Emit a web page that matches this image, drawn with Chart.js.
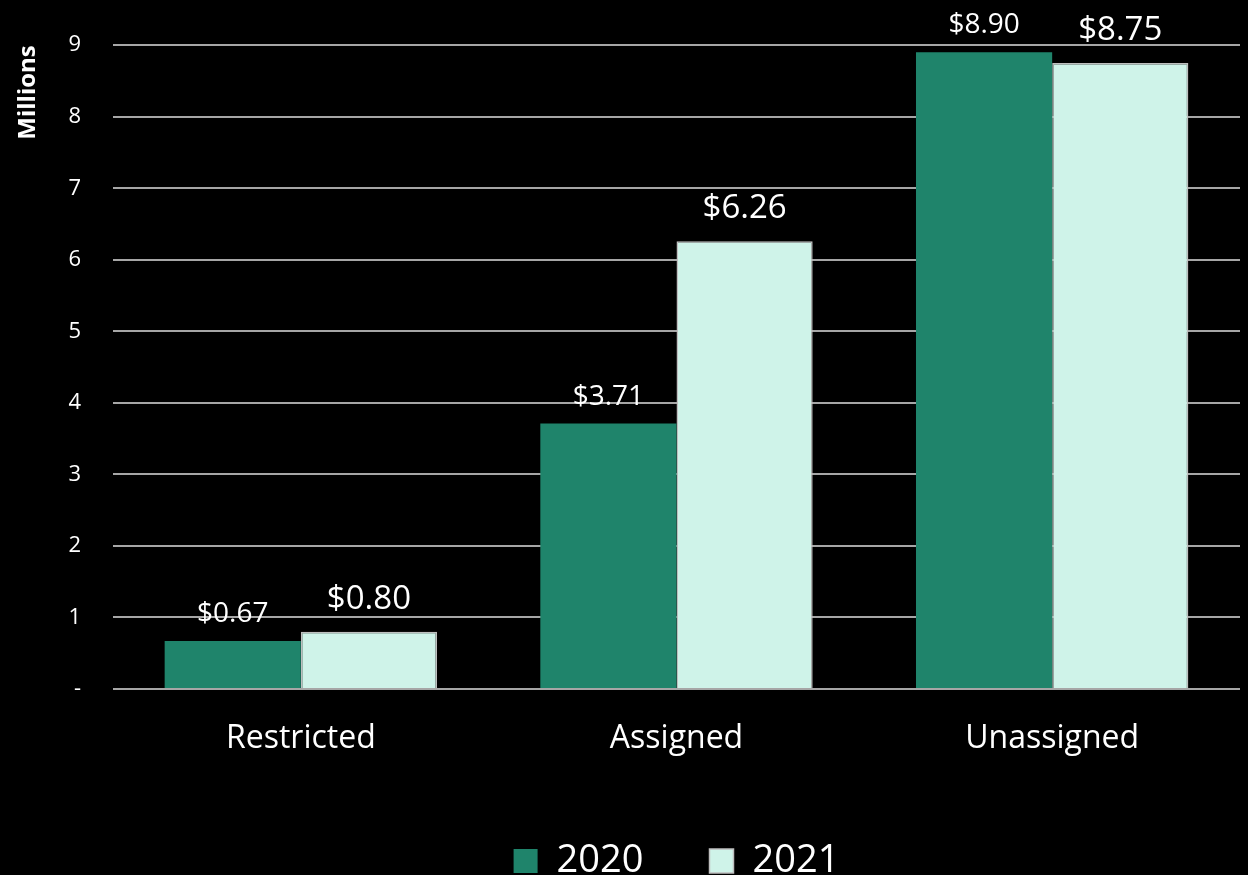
<!DOCTYPE html>
<html>
<head>
<meta charset="utf-8">
<script src="https://cdn.jsdelivr.net/npm/chart.js@4/dist/chart.umd.min.js"></script>
<style>
  html, body { margin: 0; padding: 0; background: #000; }
  #wrap { width: 1248px; height: 875px; }
</style>
</head>
<body>
<div id="wrap"><canvas id="BarChart" width="1248" height="875"></canvas></div>
<script>
var categories = ["Restricted", "Assigned", "Unassigned"];
var values2020 = [0.67, 3.71, 8.90];
var values2021 = [0.80, 6.26, 8.75];
var yTicks = ["-", "1", "2", "3", "4", "5", "6", "7", "8", "9"];

var FONT = "'Open Sans', 'Noto Sans', sans-serif";

// dollar labels above each bar, the 2021 ones a bit larger
var valueLabels = {
    id: "valueLabels",
    afterDatasetsDraw: function(chart) {
        var ctx = chart.ctx;
        var sizes = [28, 33];
        var lift = [19, 23];
        ctx.save();
        ctx.fillStyle = "#ffffff";
        ctx.textAlign = "center";
        ctx.textBaseline = "alphabetic";
        chart.data.datasets.forEach(function(ds, i) {
            var meta = chart.getDatasetMeta(i);
            ctx.font = sizes[i] + "px " + FONT;
            meta.data.forEach(function(bar, j) {
                ctx.fillText("$" + ds.data[j].toFixed(2), bar.x, bar.y - lift[i]);
            });
        });
        ctx.restore();
    }
};

// keep the legend centred under the plot area rather than the whole canvas
var legendUnderPlot = {
    id: "legendUnderPlot",
    afterLayout: function(chart) {
        var lg = chart.legend;
        var area = chart.chartArea;
        var shift = (area.left + area.right) / 2 - (lg.left + lg.right) / 2;
        lg.left += shift;
        lg.right += shift;
    }
};

var c = document.getElementById("BarChart");
var bar = new Chart(c, {
    type: "bar",
    data: {
        labels: categories,
        datasets: [{
            label: "2020",
            data: values2020,
            backgroundColor: "#1f846b",
            borderWidth: 0
        }, {
            label: "2021",
            data: values2021,
            backgroundColor: "#cff3e9",
            borderColor: "#bfbfbf",
            borderWidth: 1.5
        }]
    },
    options: {
        responsive: false,
        animation: false,
        layout: { padding: { top: 43, right: 8, left: 14, bottom: -15 } },
        datasets: {
            bar: { categoryPercentage: 0.725, barPercentage: 1.0 }
        },
        scales: {
            x: {
                grid: { display: false },
                border: { display: false },
                ticks: { color: "#ffffff", font: { family: FONT, size: 32 }, padding: 23 },
                afterFit: function(scale) { scale.height = 87; }
            },
            y: {
                min: 0,
                max: 9,
                border: { display: false },
                grid: { color: "#a6a6a6", lineWidth: 2, drawTicks: false },
                ticks: {
                    stepSize: 1,
                    color: "#ffffff",
                    font: { family: FONT, size: 22 },
                    padding: 32,
                    callback: function(v, i) { return yTicks[i]; }
                },
                title: {
                    display: true,
                    text: "Millions",
                    align: "end",
                    color: "#ffffff",
                    font: { family: FONT, size: 24, weight: "bold" },
                    padding: { top: 0, bottom: 0 }
                },
                afterFit: function(scale) { scale.width = 99; }
            }
        },
        plugins: {
            legend: {
                position: "bottom",
                labels: {
                    color: "#ffffff",
                    font: { family: FONT, size: 38 },
                    boxWidth: 24,
                    boxHeight: 24,
                    padding: 66
                }
            },
            tooltip: { enabled: false }
        }
    },
    plugins: [valueLabels, legendUnderPlot]
});
</script>
</body>
</html>
